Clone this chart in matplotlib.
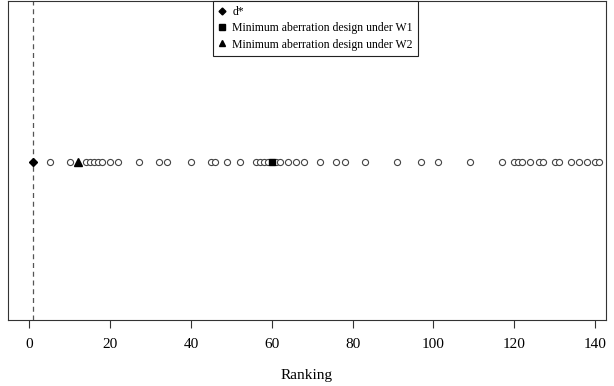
import matplotlib
matplotlib.use("Agg")
import matplotlib.pyplot as plt
from matplotlib.lines import Line2D

plt.rcParams['font.family'] = ['Liberation Serif', 'DejaVu Serif']

# Rankings of the other designs (open circles)
other_ranks = [5, 10, 14, 15, 16, 17, 18, 20, 22, 27, 32, 34, 40, 45, 46, 49, 52,
               56, 57, 58, 59, 61, 62, 64, 66, 68, 72, 76, 78, 83, 91, 97, 101,
               109, 117, 120, 121, 122, 124, 126, 127, 130, 131, 134, 136, 138,
               140, 141]
dstar_rank = [1]
w1_rank = [60]
w2_rank = [12]
xticks = [0, 20, 40, 60, 80, 100, 120, 140]
legend_labels = ["d*", "Minimum aberration design under W1",
                 "Minimum aberration design under W2"]

fig = plt.figure(figsize=(6.14, 3.86), dpi=100)
ax = fig.add_axes([8/614, 1 - 320/386, 598/614, 319/386])

ax.axvline(dstar_rank[0], color='#555555', linestyle=(0, (4, 3)), linewidth=0.9, zorder=1)
ax.plot(other_ranks, [0]*len(other_ranks), linestyle='none', marker='o',
        markersize=4.4, markerfacecolor='white', markeredgecolor='#444444',
        markeredgewidth=0.8, zorder=2)
ax.plot(dstar_rank, [0], linestyle='none', marker='D', markersize=4.3,
        color='black', zorder=3)
ax.plot(w1_rank, [0], linestyle='none', marker='s', markersize=5,
        color='black', zorder=3)
ax.plot(w2_rank, [0], linestyle='none', marker='^', markersize=5.3,
        color='black', zorder=3)

ax.set_xlim(-5.3, 142.7)
ax.set_ylim(-1, 1.02)
ax.set_yticks([])
ax.set_xticks(xticks)
ax.set_xticklabels([str(t) for t in xticks], fontsize=11)
ax.tick_params(axis='x', length=6, width=0.8, color='#333333', pad=7)
ax.set_xlabel("Ranking", fontsize=11, labelpad=13)
for s in ax.spines.values():
    s.set_color('#333333')
    s.set_linewidth(0.8)

handles = [
    Line2D([], [], linestyle='none', marker='D', markersize=3.5, color='black'),
    Line2D([], [], linestyle='none', marker='s', markersize=4, color='black'),
    Line2D([], [], linestyle='none', marker='^', markersize=4.5, color='black'),
]
leg = ax.legend(handles, legend_labels, loc='upper left',
                bbox_to_anchor=((213 - 8)/598, 1.0), fontsize=8.5,
                frameon=True, fancybox=False, framealpha=1, edgecolor='#222222',
                handlelength=0.6, handletextpad=0.6, borderpad=0.45,
                labelspacing=0.35, borderaxespad=0)
leg.get_frame().set_linewidth(0.8)

fig.savefig("out.png", dpi=100)
